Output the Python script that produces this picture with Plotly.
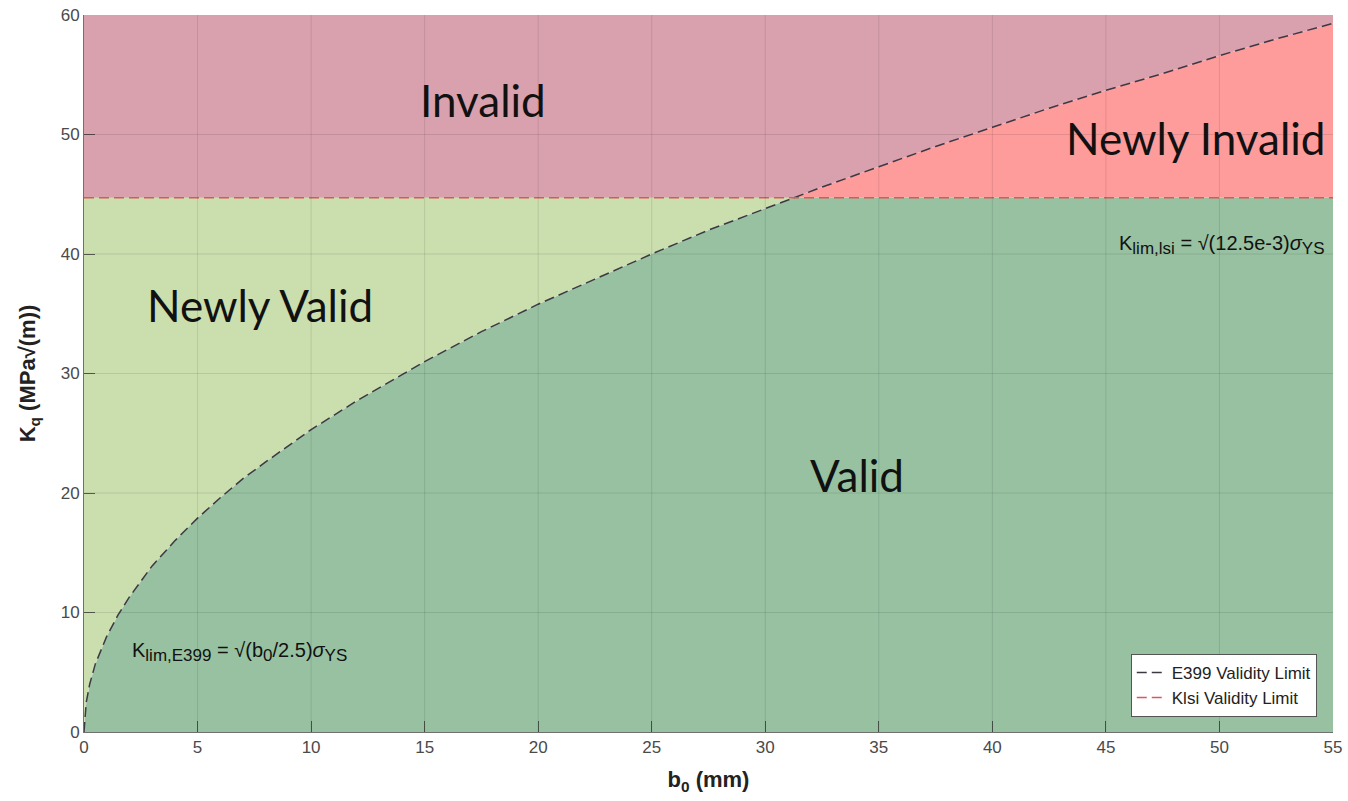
import numpy as np
import plotly.graph_objects as go

# ---- data ----
b0 = [0, 0.1, 0.25, 0.5, 1, 1.5, 2, 3, 4, 5, 6, 7, 8, 10, 12, 15, 17.5, 20, 22.5,
      25, 27.5, 30, 31.2, 32.5, 35, 37.5, 40, 42.5, 45, 47.5, 50, 52.5, 55]
k_e399 = [0, 2.5, 4.0, 5.7, 8.0, 9.8, 11.3, 13.9, 16.0, 17.9, 19.6, 21.2, 22.6, 25.3,
          27.7, 31.0, 33.5, 35.8, 37.9, 40.0, 42.0, 43.8, 44.7, 45.6, 47.3, 49.0,
          50.6, 52.2, 53.7, 55.1, 56.6, 58.0, 59.3]
k_lsi = 44.7
y_top = 60
x_ticks = [0, 5, 10, 15, 20, 25, 30, 35, 40, 45, 50, 55]
y_ticks = [0, 10, 20, 30, 40, 50, 60]

x = np.array(b0)
k = np.array(k_e399)
lsi = np.full_like(x, k_lsi, dtype=float)
lower = np.minimum(k, lsi)
upper = np.maximum(k, lsi)
top = np.full_like(x, y_top, dtype=float)

C_VALID = "#97c1a1"
C_NVALID = "#cbdeae"
C_NINVALID = "#fe9b9b"
C_INVALID = "#d9a1ad"

fig = go.Figure()
fig.add_trace(go.Scatter(x=x, y=lower, mode="lines", line=dict(width=0),
                         fill="tozeroy", fillcolor=C_VALID, showlegend=False, hoverinfo="skip"))
fig.add_trace(go.Scatter(x=x, y=lsi, mode="lines", line=dict(width=0),
                         fill="tonexty", fillcolor=C_NVALID, showlegend=False, hoverinfo="skip"))
fig.add_trace(go.Scatter(x=x, y=upper, mode="lines", line=dict(width=0),
                         fill="tonexty", fillcolor=C_NINVALID, showlegend=False, hoverinfo="skip"))
fig.add_trace(go.Scatter(x=x, y=top, mode="lines", line=dict(width=0),
                         fill="tonexty", fillcolor=C_INVALID, showlegend=False, hoverinfo="skip"))

fig.add_trace(go.Scatter(x=x, y=k, mode="lines", name="E399 Validity Limit",
                         line=dict(color="#3e3844", width=1.5, dash="10px,5px")))
fig.add_trace(go.Scatter(x=[x_ticks[0], x_ticks[-1]], y=[k_lsi, k_lsi], mode="lines",
                         name="Klsi Validity Limit",
                         line=dict(color="#d65a57", width=1.5, dash="10px,5px")))

shapes = []
for xv in x_ticks[1:-1]:
    shapes.append(dict(type="line", xref="x", yref="y", x0=xv, x1=xv, y0=0, y1=y_top,
                       line=dict(color="rgba(0,0,0,0.10)", width=1), layer="above"))
for yv in y_ticks[1:-1]:
    shapes.append(dict(type="line", xref="x", yref="y", x0=0, x1=x_ticks[-1], y0=yv, y1=yv,
                       line=dict(color="rgba(0,0,0,0.10)", width=1), layer="above"))

big = dict(family="Lato, Open Sans, sans-serif", size=44, color="#111111")
small = dict(family="Liberation Sans, Arial, sans-serif", size=20, color="#111111")
SUB = "<sub><span style='font-size:17px'>{}</span></sub>"
annotations = [
    dict(x=17.57, y=52.9, text="Invalid", showarrow=False, font=big),
    dict(x=48.97, y=49.7, text="Newly Invalid", showarrow=False, font=big),
    dict(x=7.75, y=35.7, text="Newly Valid", showarrow=False, font=big),
    dict(x=34.04, y=21.5, text="Valid", showarrow=False, font=big),
    dict(x=2.03, y=6.7,
         text="K" + SUB.format("lim,E399") + " = √(b" + SUB.format("0") + "/2.5)<i>σ</i>" + SUB.format("YS"),
         showarrow=False, font=small, xanchor="left"),
    dict(x=54.75, y=40.75,
         text="K" + SUB.format("lim,lsi") + " = √(12.5e-3)<i>σ</i>" + SUB.format("YS"),
         showarrow=False, font=small, xanchor="right"),
]

tickfont = dict(family="Liberation Sans, Arial, sans-serif", size=17, color="#4a4a4a")
axis_common = dict(showline=True, linecolor="#707070", linewidth=1, ticks="inside",
                   ticklen=11, tickcolor="rgba(40,40,40,0.7)", showgrid=False, zeroline=False,
                   layer="above traces", tickfont=tickfont, mirror=False,
                   ticklabeloverflow="allow")
title_font = dict(family="Liberation Sans, Arial, sans-serif", size=22, color="#222222")

fig.update_layout(
    width=1348, height=801,
    margin=dict(l=84, r=15, t=15, b=69, autoexpand=False),
    paper_bgcolor="white", plot_bgcolor="white",
    shapes=shapes, annotations=annotations,
    xaxis=dict(range=[0, 55], tickvals=x_ticks,
               title=dict(text="<b>b<sub>0</sub> (mm)</b>", standoff=15, font=title_font),
               **axis_common),
    yaxis=dict(range=[0, 60], tickvals=y_ticks,
               title=dict(text="<b>K<sub>q</sub> (MPa√(m))</b>", standoff=18, font=title_font),
               **axis_common),
    legend=dict(x=0.987, y=0.021, xanchor="right", yanchor="bottom",
                bgcolor="white", bordercolor="#555555", borderwidth=1,
                font=dict(family="Liberation Sans, Arial, sans-serif", size=17, color="#222222"),
                traceorder="normal", tracegroupgap=0),
    showlegend=True,
)

# remove the browser's default 8px body margin so the 1348x801 figure fills the window
fig.write_html("out.html", config={"displayModeBar": False},
               post_script="document.body.style.margin='0';document.body.style.overflow='hidden';")
